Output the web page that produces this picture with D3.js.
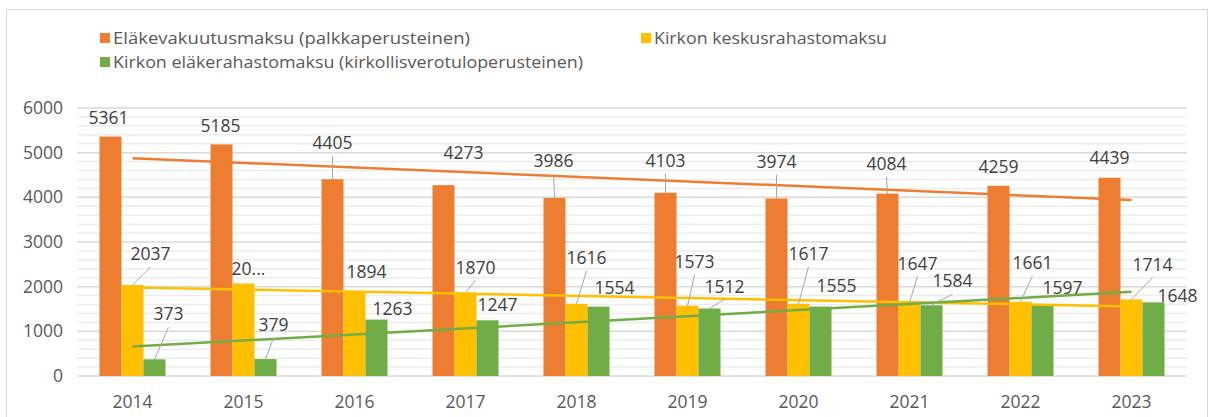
<!DOCTYPE html>
<meta charset="utf-8">
<title>Kirkon maksut 2014-2023</title>
<style>
body { margin: 0; background: #fff; }
svg { display: block; font-family: "Open Sans", sans-serif; }
.tick-y, .tick-x { fill: #595959; font-size: 17.5px; }
.legend text { fill: #595959; font-size: 16px; }
.dlabel { fill: #404040; font-size: 17.5px; }
.leader { stroke: #a6a6a6; stroke-width: 1; }
</style>
<svg width="1211" height="417"></svg>
<script src="https://d3js.org/d3.v7.min.js"></script>
<script>
// data
const years = ['2014','2015','2016','2017','2018','2019','2020','2021','2022','2023'];
const elakevakuutus = [5361, 5185, 4405, 4273, 3986, 4103, 3974, 4084, 4259, 4439];
const keskusrahasto = [2037, 2072, 1894, 1870, 1616, 1573, 1617, 1647, 1661, 1714];
const elakerahasto = [373, 379, 1263, 1247, 1554, 1512, 1555, 1584, 1597, 1648];
const seriesNames = [
  'Eläkevakuutusmaksu (palkkaperusteinen)',
  'Kirkon keskusrahastomaksu',
  'Kirkon eläkerahastomaksu (kirkollisverotuloperusteinen)'
];
const colors = ['#ED7D31', '#FFC000', '#70AD47'];
const yTicks = [0, 1000, 2000, 3000, 4000, 5000, 6000];

// label layout (hand placed in the original): [dx, dy, leader]
const labelNudge = [
  [[-2,-19,0],[-1,-19,0],[0,-36,1],[20,-32,0],[-1,-37,1],[0,-32,1],[0,-37,1],[-1,-30,1],[0,-19,0],[0,-20,0]],
  [[18,-31,1],[5,-15,0],[12,-20,0],[10,-25,1],[10,-46,1],[7,-44,1],[10,-50,1],[8,-39,1],[12,-39,1],[21,-35,1]],
  [[14,-45,1],[8,-34,1],[16,-11,0],[10,-15,0],[16,-19,0],[15,-22,1],[16,-21,0],[21,-24,1],[20,-17,0],[24,-7,0]]
];
const labelText = (s, i, v) => (s === 1 && i === 1) ? '20...' : String(v);

const allSeries = [elakevakuutus, keskusrahasto, elakerahasto];
const svg = d3.select('svg');
const plotL = 77, plotR = 1187, plotT = 108, plotB = 376;

// frame
svg.append('rect').attr('x', 6.5).attr('y', 9.5).attr('width', 1201).attr('height', 430)
  .attr('fill', 'none').attr('stroke', '#d9d9d9');

const x0 = d3.scaleBand().domain(years).range([plotL, plotR]).paddingInner(45/111).paddingOuter(45/222);
const x1 = d3.scaleBand().domain([0,1,2]).range([0, x0.bandwidth()]);
const y = d3.scaleLinear().domain([0, 6000]).range([plotB, plotT]);

// gridlines
const g = svg.append('g');
g.selectAll('line.minor').data(d3.range(200, 6000, 200).filter(v => v % 1000 !== 0))
  .enter().append('line')
  .attr('x1', plotL).attr('x2', plotR)
  .attr('y1', d => y(d)).attr('y2', d => y(d))
  .attr('stroke', '#ececec').attr('stroke-width', 1.5);
g.selectAll('line.major').data(yTicks)
  .enter().append('line')
  .attr('x1', plotL).attr('x2', plotR)
  .attr('y1', d => y(d)).attr('y2', d => y(d))
  .attr('stroke', '#d9d9d9').attr('stroke-width', 1.5);

// y labels
svg.append('g').selectAll('text').data(yTicks).enter().append('text')
  .attr('class', 'tick-y')
  .attr('x', 63).attr('y', d => y(d)).attr('dy', '0.35em')
  .attr('text-anchor', 'end').text(d => d);

// x labels
svg.append('g').selectAll('text').data(years).enter().append('text')
  .attr('class', 'tick-x')
  .attr('x', d => x0(d) + x0.bandwidth()/2).attr('y', 402).attr('dy', '0.35em')
  .attr('text-anchor', 'middle').text(d => d);

// bars
allSeries.forEach((vals, s) => {
  svg.append('g').selectAll('rect').data(vals).enter().append('rect')
    .attr('x', (d, i) => x0(years[i]) + x1(s))
    .attr('y', d => y(d))
    .attr('width', x1.bandwidth())
    .attr('height', d => y(0) - y(d))
    .attr('fill', colors[s]);
});

// linear trend lines
allSeries.forEach((vals, s) => {
  const n = vals.length;
  const mx = (n - 1) / 2, my = d3.mean(vals);
  const slope = d3.sum(vals, (v, i) => (i - mx) * (v - my)) / d3.sum(vals, (v, i) => (i - mx) * (i - mx));
  const fit = i => my + slope * (i - mx);
  const cx = i => x0(years[i]) + x0.bandwidth()/2;
  svg.append('line')
    .attr('x1', cx(0)).attr('y1', y(fit(0)))
    .attr('x2', cx(n-1)).attr('y2', y(fit(n-1)))
    .attr('stroke', colors[s]).attr('stroke-width', 2.5);
});

// data labels
allSeries.forEach((vals, s) => {
  const lg = svg.append('g');
  vals.forEach((v, i) => {
    const bx = x0(years[i]) + x1(s) + x1.bandwidth()/2;
    const by = y(v);
    const [dx, dy, leader] = labelNudge[s][i];
    const lx = bx + dx, ly = by + dy;
    if (leader) {
      lg.append('line').attr('class', 'leader')
        .attr('x1', lx).attr('y1', ly + 13)
        .attr('x2', bx).attr('y2', by);
    }
    lg.append('text').attr('class', 'dlabel')
      .attr('x', lx).attr('y', ly).attr('dy', '0.35em')
      .attr('text-anchor', 'middle').text(labelText(s, i, v));
  });
});

// legend (original font is much wider, so stretch to the measured widths)
const legendPos = [[100, 38, 357], [641, 38, 233], [100, 62, 470]];
const leg = svg.append('g').attr('class', 'legend');
seriesNames.forEach((name, s) => {
  const [lx, ly, w] = legendPos[s];
  leg.append('rect').attr('x', lx).attr('y', ly - 5).attr('width', 10).attr('height', 10).attr('fill', colors[s]);
  leg.append('text').attr('x', lx + 13).attr('y', ly).attr('dy', '0.35em')
    .attr('textLength', w).attr('lengthAdjust', 'spacingAndGlyphs').text(name);
});
</script>
